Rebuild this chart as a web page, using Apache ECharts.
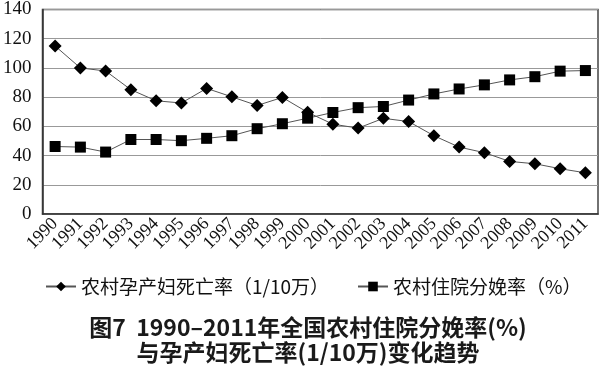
<!DOCTYPE html>
<html><head><meta charset="utf-8">
<script src="https://cdn.jsdelivr.net/npm/echarts@6/dist/echarts.min.js"></script>
<style>html,body{margin:0;padding:0;background:#fff}#c{width:600px;height:368px}</style>
</head><body><div id="c"></div>
<script>
var years = ['1990','1991','1992','1993','1994','1995','1996','1997','1998','1999','2000','2001','2002','2003','2004','2005','2006','2007','2008','2009','2010','2011'];
var mortality = [115, 100, 97.9, 85.1, 77.5, 76, 86, 80.2, 74.3, 79.8, 69.6, 61.5, 58.8, 65.5, 63.3, 53.6, 45.8, 42, 36, 34.4, 31, 28.2];
var hospitalDelivery = [46.2, 45.8, 42.4, 51, 51, 50.2, 51.8, 53.6, 58.4, 61.8, 65.6, 69.5, 72.8, 73.6, 78, 82.2, 85.6, 88.4, 91.8, 94, 97.8, 98.2];
var yTicks = [0, 20, 40, 60, 80, 100, 120, 140];
var seriesNames = ['农村孕产妇死亡率（1/10万）', '农村住院分娩率（%）'];
var titleText = '图7  1990–2011年全国农村住院分娩率(%)\n与孕产妇死亡率(1/10万)变化趋势';

var legendText = {fontFamily: '"Noto Sans CJK SC", serif', fontSize: 19, color: '#111'};
var chart = echarts.init(document.getElementById('c'), null, {renderer: 'canvas'});
chart.setOption({
  animation: false,
  backgroundColor: '#fff',
  graphic: [{
    type: 'text',
    x: 308, y: 315,
    style: {
      text: titleText,
      align: 'center',
      verticalAlign: 'top',
      fontFamily: '"Noto Sans CJK SC", sans-serif', fontWeight: 'bold', fontSize: 23, lineHeight: 25, fill: '#1a1a1a'
    }
  }],
  legend: [
    {top: 272, left: 40, itemGap: 0, itemWidth: 30, itemHeight: 12, textStyle: legendText, data: [seriesNames[0]]},
    {top: 272, left: 352, itemGap: 0, itemWidth: 30, itemHeight: 12, textStyle: legendText, data: [seriesNames[1]]}
  ],
  grid: {left: 40, right: 2, top: 7, bottom: 154, show: true, borderColor: '#444', borderWidth: 1.5},
  xAxis: {
    type: 'category',
    data: years,
    boundaryGap: true,
    axisLine: {lineStyle: {color: '#333', width: 1.5}},
    axisTick: {show: false},
    axisLabel: {rotate: 45, interval: 0, fontFamily: '"Liberation Serif", serif', fontSize: 18, color: '#111', margin: 7}
  },
  yAxis: {
    type: 'value',
    min: yTicks[0],
    max: yTicks[yTicks.length - 1],
    interval: 20,
    axisLine: {show: true, lineStyle: {color: '#333', width: 1.5}},
    axisTick: {show: false},
    splitLine: {lineStyle: {color: '#999', width: 1}},
    axisLabel: {fontFamily: '"Liberation Serif", serif', fontSize: 19, color: '#111', margin: 11}
  },
  series: [
    {
      name: seriesNames[0], type: 'line', data: mortality,
      symbol: 'diamond', symbolSize: 13,
      itemStyle: {color: '#000'},
      lineStyle: {color: '#555', width: 1}
    },
    {
      name: seriesNames[1], type: 'line', data: hospitalDelivery,
      symbol: 'rect', symbolSize: 11,
      itemStyle: {color: '#000'},
      lineStyle: {color: '#555', width: 1}
    }
  ]
});
</script></body></html>
